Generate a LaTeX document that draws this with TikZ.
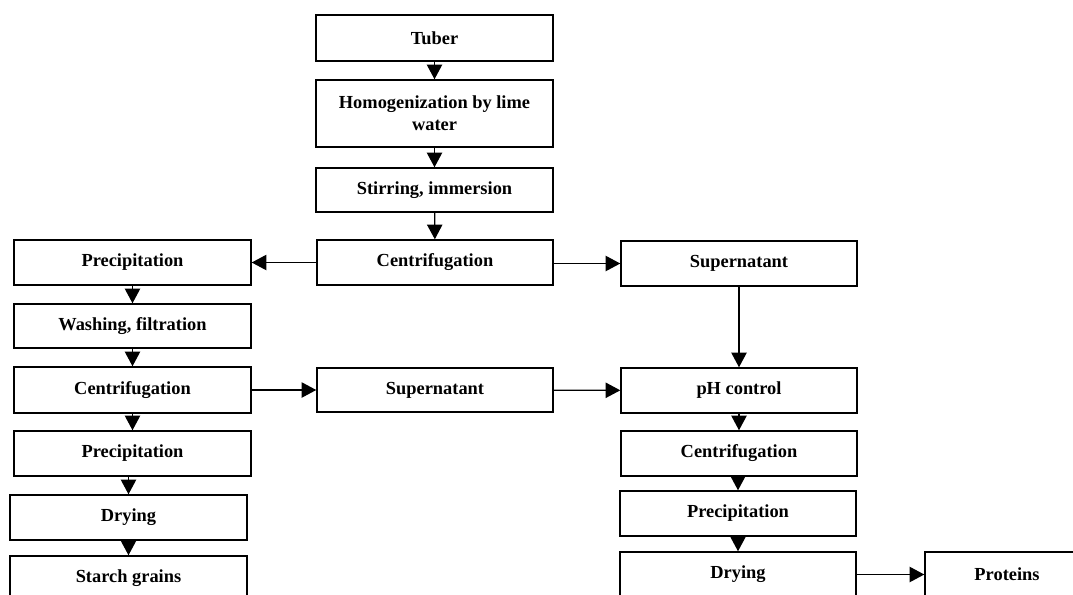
\documentclass[tikz,border=0pt]{standalone}
\usepackage{fontspec}
\setmainfont{Liberation Serif}
\usetikzlibrary{arrows.meta}
\begin{document}
\begin{tikzpicture}[x=0.75pt,y=-0.75pt,
  box/.style={draw, line width=1.1pt, inner sep=0pt, align=center,
    font=\fontsize{13.8}{16.5}\selectfont\bfseries},
  conn/.style={line width=1pt, -{Triangle[width=11.5pt,length=11pt]}}]
\useasboundingbox (0,0) rectangle (1073,594);
\clip (0,0) rectangle (1073,594);
\fill[white] (0,0) rectangle (1073,594);
% nodes: centre, width, height in px
\newcommand{\bx}[6]{\node[box, minimum width=#4*0.75pt, minimum height=#5*0.75pt] (#1) at (#2,#3) {#6};}
\bx{tuber}{434.5}{38}{237}{46}{Tuber}
\bx{homog}{434.5}{113.5}{237}{67}{Homogenization by lime\\water}
\bx{stir}{434.5}{190}{237}{44}{Stirring, immersion}
\bx{centC}{435}{262.5}{236}{45}{Centrifugation}
\bx{precL}{132.5}{262.5}{237}{45}{Precipitation}
\bx{supR}{739}{263.5}{236}{45}{Supernatant}
\bx{wash}{132.5}{326}{237}{44}{Washing, filtration}
\bx{centL}{132.5}{390}{237}{46}{Centrifugation}
\bx{supM}{435}{390}{236}{44}{Supernatant}
\bx{ph}{739}{390.5}{236}{45}{pH control}
\bx{precB}{132.5}{453.5}{237}{45}{Precipitation}
\bx{dryL}{128.5}{517.5}{237}{45}{Drying}
\bx{starch}{128.5}{578.5}{237}{45}{Starch grains}
\bx{centR}{739}{453.5}{236}{45}{Centrifugation}
\bx{precR}{738}{513.5}{236}{45}{Precipitation}
\bx{dryR}{738}{574.5}{236}{45}{Drying}
\bx{prot}{1007}{574.5}{164}{45}{Proteins}
% connectors
\draw[conn] (tuber) -- (homog);
\draw[conn] (homog) -- (stir);
\draw[conn] (stir) -- (centC);
\draw[conn] (centC) -- (precL);
\draw[conn] (centC.east |- supR.west) -- (supR);
\draw[conn] (precL) -- (wash);
\draw[conn] (wash) -- (centL);
\draw[conn] (centL) -- (supM);
\draw[conn] (supM) -- (ph);
\draw[conn] (supR) -- (ph);
\draw[conn] (centL) -- (precB);
\draw[conn] (precB.south -| dryL.north) -- (dryL.north);
\draw[conn] (dryL) -- (starch);
\draw[conn] (ph) -- (centR);
\draw[conn] (centR.south -| precR.north) -- (precR.north);
\draw[conn] (precR) -- (dryR);
\draw[conn] (dryR) -- (prot);
\end{tikzpicture}
\end{document}
